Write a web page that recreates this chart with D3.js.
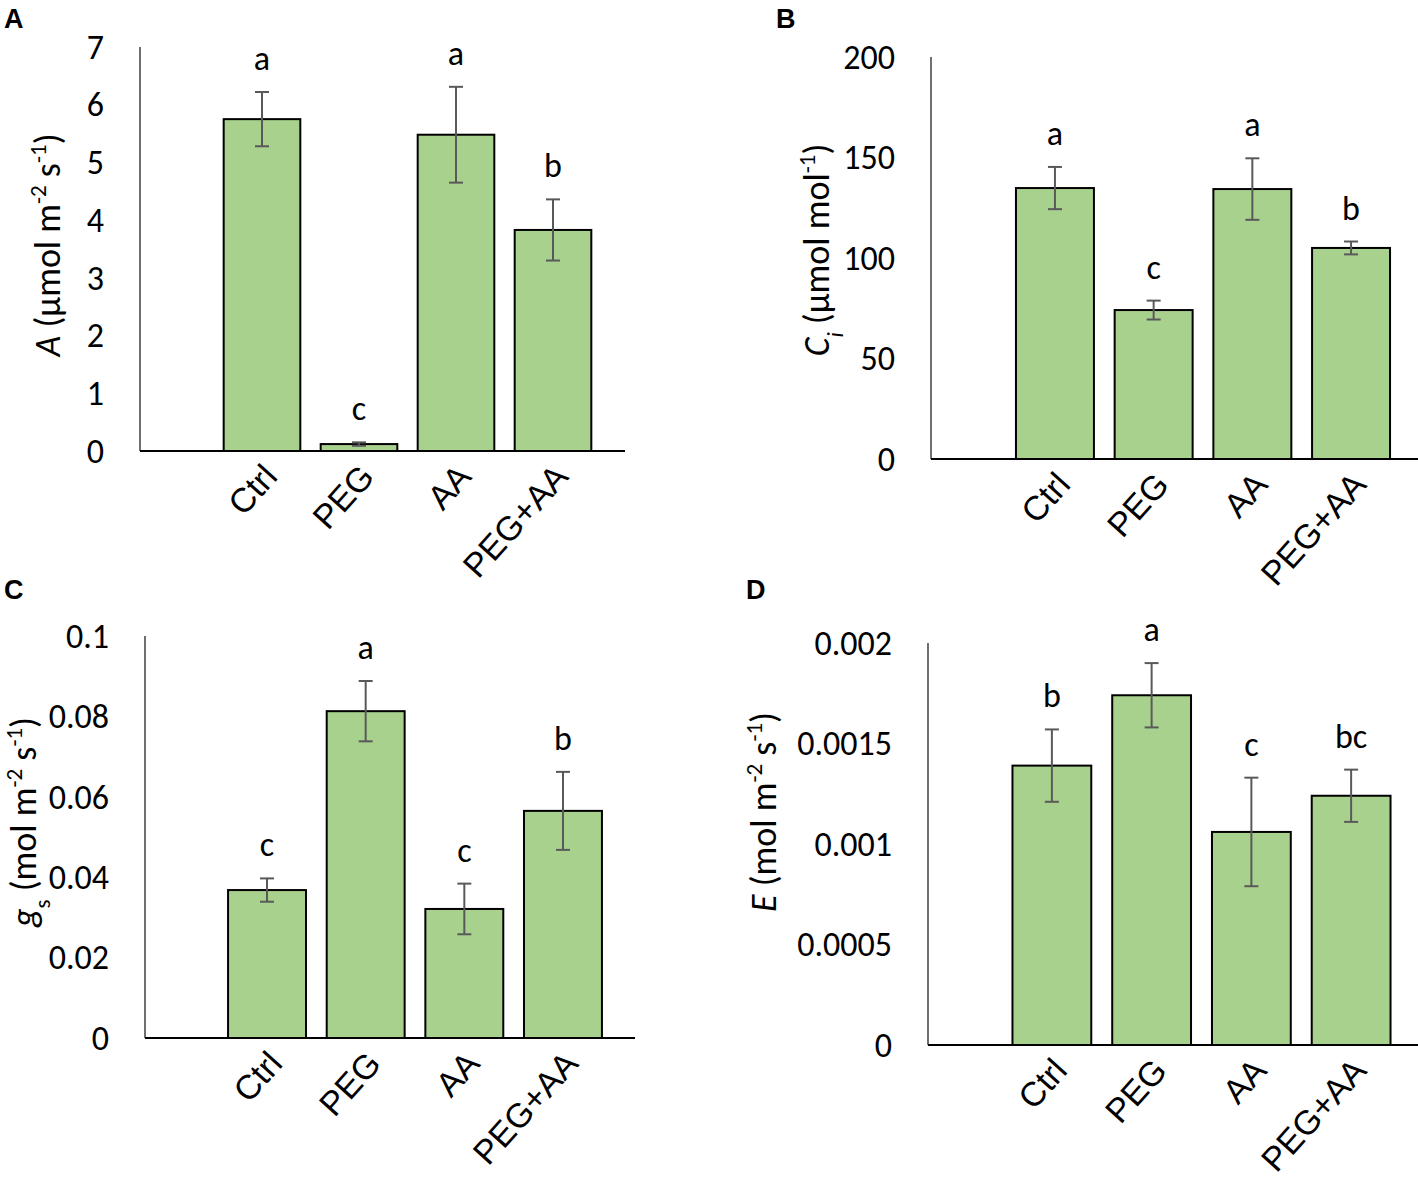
<!DOCTYPE html>
<html>
<head>
<meta charset="utf-8">
<script src="https://cdn.jsdelivr.net/npm/d3@7"></script>
<style>
  body { margin: 0; background: #fff; }
  text { font-family: Carlito, Lato, "Open Sans", sans-serif; fill: #000; }
</style>
</head>
<body>
<div id="chart"></div>
<script>
var width = 1418;
var height = 1178;

// treatments
var categories = ["Ctrl", "PEG", "AA", "PEG+AA"];

// A - net photosynthesis
var photoValues = [5.75, 0.12, 5.48, 3.83];
var photoErrors = [0.47, 0.03, 0.83, 0.53];
var photoLetters = ["a", "c", "a", "b"];
var photoTicks = [0, 1, 2, 3, 4, 5, 6, 7];

// B - intercellular CO2
var ciValues = [134.8, 74.1, 134.3, 105.0];
var ciErrors = [10.5, 4.7, 15.3, 3.2];
var ciLetters = ["a", "c", "a", "b"];
var ciTicks = [0, 50, 100, 150, 200];

// C - stomatal conductance
var gsValues = [0.0368, 0.0813, 0.0321, 0.0565];
var gsErrors = [0.0029, 0.0075, 0.0063, 0.0097];
var gsLetters = ["c", "a", "c", "b"];
var gsTicks = [0, 0.02, 0.04, 0.06, 0.08, 0.1];

// D - transpiration
var eValues = [0.00139, 0.00174, 0.00106, 0.00124];
var eErrors = [0.00018, 0.00016, 0.00027, 0.00013];
var eLetters = ["b", "a", "c", "bc"];
var eTicks = [0, 0.0005, 0.001, 0.0015, 0.002];

var svg = d3.select("#chart").append("svg")
	.attr("width", width)
	.attr("height", height);

// title pieces: [text, style] style: i = italic, isub = italic subscript, sub, sup
var panels = [
	{ tag: "A", tagX: 4, tagY: 28, values: photoValues, errors: photoErrors, letters: photoLetters, ticks: photoTicks,
	  axisX: 140, xEnd: 625, top: 47, base: 451, band: [213.5, 601.5],
	  titleX: 60, titleY: 245,
	  title: [["A", "i"], [" (µmol m", ""], ["-2", "sup"], [" s", ""], ["-1", "sup"], [")", ""]] },
	{ tag: "B", tagX: 776, tagY: 28, values: ciValues, errors: ciErrors, letters: ciLetters, ticks: ciTicks,
	  axisX: 931, xEnd: 1418, top: 57, base: 459, band: [1005.6, 1400.4],
	  titleX: 829, titleY: 250,
	  title: [["C", "i"], ["i", "isub"], [" (µmol mol", ""], ["-1", "sup"], [")", ""]] },
	{ tag: "C", tagX: 4, tagY: 599, values: gsValues, errors: gsErrors, letters: gsLetters, ticks: gsTicks,
	  axisX: 145, xEnd: 635, top: 636, base: 1038, band: [217.7, 612.3],
	  titleX: 36, titleY: 822,
	  title: [["g", "i"], ["s", "sub"], [" (mol m", ""], ["-2", "sup"], [" s", ""], ["-1", "sup"], [")", ""]] },
	{ tag: "D", tagX: 746, tagY: 599, values: eValues, errors: eErrors, letters: eLetters, ticks: eTicks,
	  axisX: 928, xEnd: 1418, top: 643, base: 1045, band: [1002, 1401],
	  titleX: 776, titleY: 812,
	  title: [["E", "i"], [" (mol m", ""], ["-2", "sup"], [" s", ""], ["-1", "sup"], [")", ""]] }
];

panels.forEach(function(p) {
	var g = svg.append("g");
	var rows = categories.map(function(c, i) {
		return { cat: c, value: p.values[i], err: p.errors[i], letter: p.letters[i] };
	});

	var xScale = d3.scaleBand()
		.domain(categories)
		.range(p.band)
		.paddingInner(0.21)
		.paddingOuter(0.105);

	var yScale = d3.scaleLinear()
		.domain([0, d3.max(p.ticks)])
		.range([p.base, p.top]);

	// y axis labels only
	var yAxis = g.append("g")
		.attr("transform", "translate(" + p.axisX + ",0)")
		.call(d3.axisLeft(yScale).tickValues(p.ticks).tickSize(0).tickPadding(36).tickFormat(function(d) { return String(d); }));
	yAxis.select(".domain").remove();
	yAxis.selectAll("text")
		.style("font-size", "34px")
		.attr("dy", "0.33em");

	// axis lines
	g.append("line")
		.attr("x1", p.axisX).attr("x2", p.axisX)
		.attr("y1", p.top).attr("y2", p.base)
		.attr("stroke", "#222").attr("stroke-width", 1.3);

	// bars
	g.selectAll(".bar")
		.data(rows)
		.enter()
		.append("rect")
			.attr("x", function(d) { return xScale(d.cat); })
			.attr("y", function(d) { return yScale(d.value); })
			.attr("width", xScale.bandwidth())
			.attr("height", function(d) { return p.base - yScale(d.value); })
			.attr("fill", "#a9d18e")
			.attr("stroke", "#000")
			.attr("stroke-width", 2);

	g.append("line")
		.attr("x1", p.axisX).attr("x2", p.xEnd)
		.attr("y1", p.base).attr("y2", p.base)
		.attr("stroke", "#000").attr("stroke-width", 2.2);

	// error bars
	var eb = g.selectAll(".err")
		.data(rows)
		.enter()
		.append("g")
		.attr("stroke", "#595959")
		.attr("stroke-width", 2);
	eb.append("line")
		.attr("x1", function(d) { return xScale(d.cat) + xScale.bandwidth() / 2; })
		.attr("x2", function(d) { return xScale(d.cat) + xScale.bandwidth() / 2; })
		.attr("y1", function(d) { return yScale(d.value + d.err); })
		.attr("y2", function(d) { return yScale(d.value - d.err); });
	[1, -1].forEach(function(s) {
		eb.append("line")
			.attr("x1", function(d) { return xScale(d.cat) + xScale.bandwidth() / 2 - 7; })
			.attr("x2", function(d) { return xScale(d.cat) + xScale.bandwidth() / 2 + 7; })
			.attr("y1", function(d) { return yScale(d.value + s * d.err); })
			.attr("y2", function(d) { return yScale(d.value + s * d.err); });
	});

	// significance letters
	g.selectAll(".letter")
		.data(rows)
		.enter()
		.append("text")
			.attr("x", function(d) { return xScale(d.cat) + xScale.bandwidth() / 2; })
			.attr("y", function(d) { return yScale(d.value + d.err) - 22; })
			.attr("text-anchor", "middle")
			.style("font-size", "34px")
			.text(function(d) { return d.letter; });

	// category labels, rotated
	var xAxis = g.append("g")
		.attr("transform", "translate(0," + p.base + ")")
		.call(d3.axisBottom(xScale).tickSize(0));
	xAxis.select(".domain").remove();
	xAxis.selectAll("text")
		.attr("x", 0).attr("y", 0).attr("dy", 0)
		.attr("text-anchor", "end")
		.attr("transform", "translate(17,27) rotate(-48)")
		.style("font-family", "'Liberation Sans', Arial, sans-serif")
		.style("font-size", "34px");

	// axis title
	var t = g.append("text")
		.attr("transform", "translate(" + p.titleX + "," + p.titleY + ") rotate(-90)")
		.attr("text-anchor", "middle")
		.style("font-size", "36px");
	p.title.forEach(function(piece) {
		var ts = t.append("tspan").text(piece[0]);
		if (piece[1] == "i") ts.style("font-style", "italic");
		if (piece[1] == "sup") ts.style("font-size", "23px").attr("baseline-shift", "super");
		if (piece[1] == "sub") ts.style("font-size", "23px").attr("baseline-shift", "sub");
		if (piece[1] == "isub") ts.style("font-size", "23px").style("font-style", "italic").attr("baseline-shift", "sub");
	});

	// panel tag
	svg.append("text")
		.attr("x", p.tagX).attr("y", p.tagY)
		.style("font-family", "'Liberation Sans', Arial, sans-serif")
		.style("font-weight", "bold")
		.style("font-size", "27px")
		.text(p.tag);
});
</script>
</body>
</html>
